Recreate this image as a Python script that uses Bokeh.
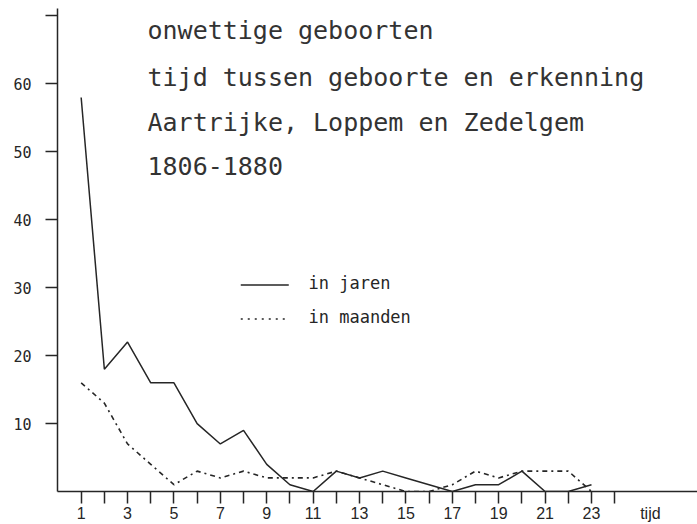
from bokeh.plotting import figure
from bokeh.models import FixedTicker, LinearAxis
from bokeh.models import Label
from bokeh.embed import file_html
from bokeh.resources import INLINE

# ---- data ----
tijd = list(range(1, 24))
in_jaren = [58, 18, 22, 16, 16, 10, 7, 9, 4, 1, 0, 3, 2, 3, 2, 1, 0, 1, 1, 3, 0, 0, 1]
in_maanden = [16, 13, 7, 4, 1, 3, 2, 3, 2, 2, 2, 3, 2, 1, 0, 0, 1, 3, 2, 3, 3, 3, 0]
x_ticks = list(range(1, 25))
x_label_ticks = [1, 3, 5, 7, 9, 11, 13, 15, 17, 19, 21, 23]
x_axis_name = "tijd"
x_axis_name_pos = 25.54
y_ticks = [10, 20, 30, 40, 50, 60, 70]
y_tick_labels = {t: (str(t) if t < 70 else "") for t in y_ticks}
title_lines = ["onwettige geboorten",
               "tijd tussen geboorte en erkenning",
               "Aartrijke, Loppem en Zedelgem",
               "1806-1880"]
legend_labels = ["in jaren", "in maanden"]

INK = "#262626"
MONO = "DejaVu Sans Mono"

p = figure(width=697, height=524, output_backend="svg", toolbar_location=None,
           x_range=(-0.02, 27.57), y_range=(0, 71.1),
           min_border_left=57, min_border_right=0, min_border_top=8,
           min_border_bottom=0)
p.outline_line_color = None
p.xgrid.visible = False
p.ygrid.visible = False
p.background_fill_color = "white"
p.border_fill_color = "white"

# x axis: tick marks only (labels blank)
p.xaxis.ticker = FixedTicker(ticks=x_ticks)
p.xaxis.major_label_overrides = {t: "" for t in x_ticks}
p.xaxis.minor_tick_line_color = None
p.xaxis.major_tick_in = 0
p.xaxis.major_tick_out = 12
p.xaxis.major_label_standoff = 0
p.xaxis.major_label_text_font_size = "1px"

# second x axis below: labels only (odd ticks + axis name)
lab_axis = LinearAxis(ticker=FixedTicker(ticks=x_label_ticks + [x_axis_name_pos]))
lab_axis.major_label_overrides = {x_axis_name_pos: x_axis_name}
lab_axis.axis_line_color = None
lab_axis.major_tick_line_color = None
lab_axis.minor_tick_line_color = None
lab_axis.major_tick_in = 0
lab_axis.major_tick_out = 0
lab_axis.major_label_standoff = 1
lab_axis.major_label_text_font = "Liberation Sans"
lab_axis.major_label_text_font_size = "16px"
lab_axis.major_label_text_color = INK
p.add_layout(lab_axis, "below")

p.yaxis.ticker = FixedTicker(ticks=y_ticks)
p.yaxis.major_label_overrides = y_tick_labels
p.yaxis.minor_tick_line_color = None
p.yaxis.major_tick_in = 0
p.yaxis.major_tick_out = 12
p.yaxis.major_label_standoff = 14
p.yaxis.major_label_text_font = MONO
p.yaxis.major_label_text_font_size = "15px"
p.yaxis.major_label_text_color = INK

for ax in (p.xaxis[0], p.yaxis[0]):
    ax.axis_line_color = INK
    ax.axis_line_width = 1.5
    ax.major_tick_line_color = INK
    ax.major_tick_line_width = 1.5

# series
p.line(tijd, in_jaren, line_color=INK, line_width=1.5)
p.line(tijd, in_maanden, line_color=INK, line_width=1.6, line_dash="5 4 2 4")

# legend (drawn manually like the original)
p.line([7.88, 9.95], [30.4, 30.4], line_color=INK, line_width=1.5)
p.line([7.88, 9.95], [25.4, 25.4], line_color=INK, line_width=1.6, line_dash="2 5")
for lbl, yy in zip(legend_labels, [30.7, 25.7]):
    p.add_layout(Label(x=10.8, y=yy, text=lbl, text_font=MONO,
                       text_font_size="17px", text_color=INK,
                       text_baseline="middle"))

# title block
for line, yy in zip(title_lines, [67.8, 60.9, 54.3, 47.9]):
    p.add_layout(Label(x=3.86, y=yy, text=line, text_font=MONO,
                       text_font_size="25px", text_color="#333333",
                       text_baseline="middle"))

open("out.html", "w").write(file_html(p, INLINE))
